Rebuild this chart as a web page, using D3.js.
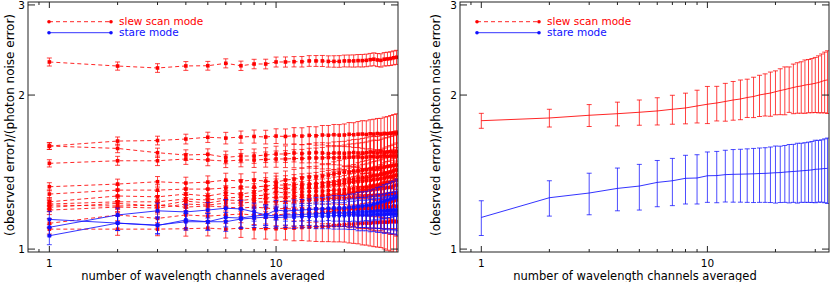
<!DOCTYPE html>
<html>
<head>
<meta charset="utf-8">
<script src="https://cdn.jsdelivr.net/npm/d3@7"></script>
<style>
  body { margin: 0; background: #fff; }
  svg { display: block; }
  text { font-family: "DejaVu Sans", sans-serif; }
</style>
</head>
<body>
<div id="chart"></div>
<script>
// number of wavelength channels averaged
var channels = [1, 2, 3, 4, 5, 6, 7, 8, 9, 10, 11, 12, 13, 14, 15, 16, 17, 18, 19, 20,
                21, 22, 23, 24, 25, 26, 27, 28, 29, 30, 31, 32, 33, 34];

// left panel, slew scan mode (one line per observation)
var slew1 = [2.321, 2.279, 2.259, 2.280, 2.282, 2.307, 2.282, 2.300, 2.300, 2.321, 2.321, 2.324, 2.324, 2.332, 2.332, 2.332, 2.327, 2.327, 2.327, 2.332, 2.332, 2.332, 2.335, 2.335, 2.338, 2.345, 2.350, 2.342, 2.338, 2.350, 2.353, 2.357, 2.365, 2.371];
var slew2 = [1.590, 1.626, 1.630, 1.641, 1.654, 1.648, 1.656, 1.660, 1.656, 1.663, 1.660, 1.666, 1.663, 1.668, 1.665, 1.671, 1.669, 1.673, 1.670, 1.671, 1.676, 1.673, 1.677, 1.678, 1.675, 1.680, 1.678, 1.682, 1.679, 1.683, 1.681, 1.684, 1.686, 1.686];
var slew3 = [1.590, 1.573, 1.543, 1.527, 1.532, 1.511, 1.520, 1.520, 1.527, 1.534, 1.534, 1.541, 1.537, 1.541, 1.544, 1.541, 1.537, 1.541, 1.541, 1.539, 1.541, 1.544, 1.541, 1.541, 1.544, 1.548, 1.544, 1.541, 1.548, 1.544, 1.548, 1.551, 1.548, 1.551];
var slew4 = [1.471, 1.488, 1.488, 1.500, 1.493, 1.486, 1.493, 1.493, 1.497, 1.500, 1.500, 1.503, 1.503, 1.507, 1.507, 1.507, 1.510, 1.507, 1.510, 1.512, 1.513, 1.513, 1.513, 1.510, 1.513, 1.517, 1.517, 1.513, 1.517, 1.520, 1.517, 1.520, 1.520, 1.520];
var slew5 = [1.324, 1.340, 1.354, 1.346, 1.352, 1.364, 1.358, 1.364, 1.358, 1.352, 1.364, 1.370, 1.377, 1.383, 1.383, 1.389, 1.395, 1.402, 1.408, 1.414, 1.414, 1.421, 1.424, 1.427, 1.430, 1.434, 1.437, 1.440, 1.444, 1.447, 1.450, 1.453, 1.457, 1.460];
var slew6 = [1.281, 1.304, 1.304, 1.310, 1.310, 1.316, 1.322, 1.322, 1.328, 1.334, 1.334, 1.337, 1.340, 1.340, 1.343, 1.346, 1.349, 1.352, 1.358, 1.364, 1.367, 1.370, 1.377, 1.380, 1.383, 1.389, 1.392, 1.395, 1.402, 1.405, 1.408, 1.414, 1.421, 1.427];
var slew7 = [1.237, 1.270, 1.265, 1.281, 1.270, 1.287, 1.281, 1.293, 1.304, 1.316, 1.313, 1.316, 1.322, 1.322, 1.325, 1.328, 1.334, 1.337, 1.340, 1.346, 1.349, 1.352, 1.355, 1.358, 1.361, 1.364, 1.367, 1.370, 1.373, 1.377, 1.383, 1.386, 1.389, 1.395];
var slew8 = [1.225, 1.237, 1.237, 1.253, 1.247, 1.258, 1.264, 1.270, 1.275, 1.293, 1.287, 1.290, 1.293, 1.296, 1.298, 1.298, 1.301, 1.304, 1.304, 1.307, 1.310, 1.313, 1.316, 1.319, 1.322, 1.328, 1.331, 1.334, 1.340, 1.346, 1.349, 1.352, 1.358, 1.364];
var slew9 = [1.207, 1.228, 1.214, 1.241, 1.230, 1.247, 1.244, 1.253, 1.258, 1.264, 1.264, 1.267, 1.270, 1.270, 1.273, 1.275, 1.278, 1.281, 1.284, 1.287, 1.290, 1.293, 1.296, 1.298, 1.301, 1.304, 1.307, 1.310, 1.313, 1.316, 1.319, 1.322, 1.328, 1.334];
var slew10 = [1.192, 1.208, 1.203, 1.225, 1.219, 1.230, 1.230, 1.236, 1.236, 1.237, 1.241, 1.241, 1.244, 1.247, 1.247, 1.250, 1.253, 1.256, 1.258, 1.258, 1.261, 1.264, 1.264, 1.267, 1.270, 1.270, 1.273, 1.275, 1.275, 1.278, 1.281, 1.284, 1.287, 1.287];
var slew11 = [1.219, 1.214, 1.219, 1.208, 1.214, 1.208, 1.203, 1.208, 1.203, 1.198, 1.201, 1.196, 1.199, 1.195, 1.198, 1.194, 1.197, 1.195, 1.198, 1.192, 1.196, 1.199, 1.197, 1.200, 1.203, 1.201, 1.204, 1.203, 1.208, 1.206, 1.209, 1.208, 1.214, 1.212];
var slew12 = [1.123, 1.166, 1.148, 1.166, 1.160, 1.166, 1.171, 1.166, 1.171, 1.166, 1.171, 1.171, 1.174, 1.177, 1.177, 1.182, 1.182, 1.187, 1.187, 1.192, 1.192, 1.198, 1.198, 1.203, 1.203, 1.209, 1.214, 1.217, 1.219, 1.225, 1.230, 1.236, 1.242, 1.247];
var slew13 = [1.094, 1.094, 1.094, 1.096, 1.099, 1.094, 1.099, 1.096, 1.097, 1.096, 1.099, 1.099, 1.102, 1.104, 1.104, 1.107, 1.109, 1.112, 1.114, 1.117, 1.119, 1.119, 1.122, 1.123, 1.124, 1.124, 1.127, 1.127, 1.129, 1.129, 1.129, 1.131, 1.131, 1.131];

// left panel, stare mode
var stare1 = [1.143, 1.124, 1.112, 1.140, 1.131, 1.153, 1.150, 1.160, 1.166, 1.160, 1.166, 1.166, 1.169, 1.171, 1.171, 1.174, 1.174, 1.177, 1.177, 1.177, 1.179, 1.179, 1.182, 1.182, 1.182, 1.184, 1.184, 1.187, 1.187, 1.187, 1.190, 1.190, 1.192, 1.192];
var stare2 = [1.103, 1.166, 1.188, 1.182, 1.192, 1.202, 1.198, 1.182, 1.166, 1.192, 1.187, 1.190, 1.192, 1.195, 1.198, 1.198, 1.201, 1.203, 1.203, 1.203, 1.206, 1.208, 1.211, 1.214, 1.217, 1.219, 1.225, 1.230, 1.236, 1.241, 1.247, 1.253, 1.258, 1.264];
var stare3 = [1.062, 1.124, 1.114, 1.131, 1.131, 1.131, 1.145, 1.150, 1.155, 1.152, 1.155, 1.155, 1.158, 1.158, 1.160, 1.160, 1.160, 1.163, 1.163, 1.163, 1.166, 1.166, 1.166, 1.166, 1.166, 1.166, 1.168, 1.168, 1.168, 1.168, 1.171, 1.171, 1.171, 1.171];

// left panel error bars
var errSlewTop = [0.042, 0.042, 0.044, 0.045, 0.045, 0.047, 0.048, 0.049, 0.050, 0.052, 0.053, 0.054, 0.055, 0.056, 0.057, 0.058, 0.059, 0.060, 0.061, 0.062, 0.063, 0.064, 0.065, 0.066, 0.066, 0.067, 0.068, 0.069, 0.070, 0.071, 0.072, 0.073, 0.074, 0.075];
var errSlew = [0.024, 0.030, 0.032, 0.036, 0.038, 0.043, 0.045, 0.049, 0.051, 0.055, 0.057, 0.061, 0.063, 0.067, 0.069, 0.073, 0.075, 0.079, 0.081, 0.085, 0.091, 0.093, 0.098, 0.104, 0.106, 0.110, 0.116, 0.118, 0.122, 0.128, 0.134, 0.140, 0.146, 0.152];
var errStare = [0.042, 0.037, 0.042, 0.042, 0.042, 0.048, 0.048, 0.048, 0.053, 0.053, 0.053, 0.058, 0.058, 0.058, 0.064, 0.064, 0.064, 0.069, 0.069, 0.069, 0.074, 0.074, 0.080, 0.080, 0.080, 0.085, 0.085, 0.090, 0.090, 0.095, 0.095, 0.100, 0.100, 0.106];

// right panel, averages
var slewMean = [1.782, 1.804, 1.826, 1.839, 1.851, 1.862, 1.876, 1.887, 1.904, 1.919, 1.930, 1.943, 1.956, 1.965, 1.978, 1.987, 2.001, 2.010, 2.018, 2.030, 2.041, 2.050, 2.060, 2.069, 2.078, 2.083, 2.092, 2.097, 2.102, 2.109, 2.116, 2.126, 2.136, 2.141];
var errSlewMean = [0.060, 0.072, 0.090, 0.098, 0.105, 0.114, 0.122, 0.130, 0.140, 0.160, 0.150, 0.165, 0.170, 0.175, 0.170, 0.180, 0.185, 0.190, 0.200, 0.200, 0.210, 0.220, 0.210, 0.230, 0.235, 0.240, 0.250, 0.250, 0.255, 0.260, 0.270, 0.280, 0.290, 0.300];
var stareMean = [1.153, 1.260, 1.287, 1.314, 1.328, 1.350, 1.360, 1.375, 1.377, 1.391, 1.392, 1.398, 1.400, 1.401, 1.402, 1.403, 1.405, 1.406, 1.408, 1.410, 1.411, 1.414, 1.416, 1.418, 1.420, 1.422, 1.424, 1.426, 1.428, 1.432, 1.433, 1.435, 1.437, 1.438];
var errStareMean = [0.090, 0.100, 0.120, 0.126, 0.136, 0.140, 0.144, 0.150, 0.152, 0.157, 0.160, 0.162, 0.165, 0.166, 0.168, 0.170, 0.171, 0.172, 0.175, 0.180, 0.178, 0.180, 0.185, 0.184, 0.190, 0.188, 0.190, 0.192, 0.195, 0.200, 0.198, 0.200, 0.205, 0.210];

var xTicksMajor = [1, 10];
var xTicksMinor = [0.9, 2, 3, 4, 5, 6, 7, 8, 9, 20, 30];
var yTicks = [1, 2, 3];
var legendLabels = ["slew scan mode", "stare mode"];
var xTitle = "number of wavelength channels averaged";
var yTitle = "(obesrved error)/(photon noise error)";

var RED = "#ff0000", BLUE = "#1010ff";
var width = 830, height = 282;

var svg = d3.select("#chart").append("svg")
    .attr("width", width)
    .attr("height", height);

function drawPanel(p) {
    var x = d3.scaleLog().domain([0.805, 34.5]).range([p.left, p.right]);
    var y = d3.scaleLog().domain([0.987, 3.04]).range([252, 2]);
    var g = svg.append("g");

    var clipId = "clip" + p.id;
    g.append("clipPath").attr("id", clipId)
        .append("rect")
        .attr("x", p.left).attr("y", 2)
        .attr("width", p.right - p.left).attr("height", 250);
    var plot = g.append("g").attr("clip-path", "url(#" + clipId + ")");

    var line = d3.line()
        .x(function (d) { return x(d[0]); })
        .y(function (d) { return y(d[1]); });

    p.series.forEach(function (s) {
        var pts = channels.map(function (c, i) { return [c, s.values[i], s.err[i]]; });
        var sg = plot.append("g");

        // error bars
        var eb = sg.selectAll(".eb").data(pts).enter().append("g");
        eb.append("line")
            .attr("x1", function (d) { return x(d[0]); })
            .attr("x2", function (d) { return x(d[0]); })
            .attr("y1", function (d) { return y(d[1] - d[2]); })
            .attr("y2", function (d) { return y(d[1] + d[2]); });
        eb.append("line")
            .attr("x1", function (d) { return x(d[0]) - p.cap; })
            .attr("x2", function (d) { return x(d[0]) + p.cap; })
            .attr("y1", function (d) { return y(d[1] + d[2]); })
            .attr("y2", function (d) { return y(d[1] + d[2]); });
        eb.append("line")
            .attr("x1", function (d) { return x(d[0]) - p.cap; })
            .attr("x2", function (d) { return x(d[0]) + p.cap; })
            .attr("y1", function (d) { return y(d[1] - d[2]); })
            .attr("y2", function (d) { return y(d[1] - d[2]); });
        eb.selectAll("line")
            .attr("stroke", s.color)
            .attr("stroke-opacity", 0.75)
            .attr("stroke-width", 1);

        sg.append("path")
            .datum(pts)
            .attr("fill", "none")
            .attr("stroke", s.color)
            .attr("stroke-width", 1)
            .attr("stroke-opacity", 0.85)
            .attr("stroke-dasharray", s.dash ? "4,3" : null)
            .attr("d", line);

        if (p.markers) {
            sg.selectAll(".mk").data(pts).enter().append("rect")
                .attr("x", function (d) { return x(d[0]) - 1.8; })
                .attr("y", function (d) { return y(d[1]) - 1.8; })
                .attr("width", 3.6)
                .attr("height", 3.6)
                .attr("fill", s.color);
        }
    });

    // frame
    g.append("rect")
        .attr("x", p.left).attr("y", 2)
        .attr("width", p.right - p.left).attr("height", 250)
        .attr("fill", "none")
        .attr("stroke", "#222")
        .attr("stroke-width", 1);

    // x ticks, pointing inwards on top and bottom
    [[252, -1], [2, 1]].forEach(function (e) {
        g.selectAll(null).data(xTicksMajor).enter().append("line")
            .attr("x1", function (d) { return x(d); }).attr("x2", function (d) { return x(d); })
            .attr("y1", e[0]).attr("y2", e[0] + e[1] * 6)
            .attr("stroke", "#222");
        g.selectAll(null).data(xTicksMinor).enter().append("line")
            .attr("x1", function (d) { return x(d); }).attr("x2", function (d) { return x(d); })
            .attr("y1", e[0]).attr("y2", e[0] + e[1] * 3)
            .attr("stroke", "#222");
    });
    // y ticks on left and right
    [[p.left, 1], [p.right, -1]].forEach(function (e) {
        g.selectAll(null).data(yTicks).enter().append("line")
            .attr("x1", e[0]).attr("x2", e[0] + e[1] * 7)
            .attr("y1", function (d) { return y(d); }).attr("y2", function (d) { return y(d); })
            .attr("stroke", "#222");
    });

    g.selectAll(null).data(xTicksMajor).enter().append("text")
        .attr("x", function (d) { return x(d); })
        .attr("y", 267)
        .attr("text-anchor", "middle")
        .style("font-size", "10.5px")
        .text(function (d) { return d; });
    g.selectAll(null).data(yTicks).enter().append("text")
        .attr("x", p.left - 3)
        .attr("y", function (d) { return y(d); })
        .attr("dy", "0.36em")
        .attr("text-anchor", "end")
        .style("font-size", "10.5px")
        .text(function (d) { return d; });

    // axis titles
    g.append("text")
        .attr("x", p.xTitleX).attr("y", 280)
        .attr("text-anchor", "middle")
        .style("font-size", "11.5px")
        .text(xTitle);
    g.append("text")
        .attr("transform", "translate(" + p.yTitleX + ",125) rotate(-90)")
        .attr("text-anchor", "middle")
        .style("font-size", "12px")
        .text(yTitle);

    // legend
    var lg = g.append("g");
    [[RED, true, 21.7], [BLUE, false, 32.7]].forEach(function (e, i) {
        lg.append("line")
            .attr("x1", p.legX).attr("x2", p.legX + 62)
            .attr("y1", e[2]).attr("y2", e[2])
            .attr("stroke", e[0])
            .attr("stroke-opacity", 0.85)
            .attr("stroke-dasharray", e[1] ? "4,3" : null);
        [p.legX, p.legX + 62].forEach(function (cx) {
            lg.append("circle").attr("cx", cx).attr("cy", e[2]).attr("r", 1.8).attr("fill", e[0]);
        });
        lg.append("text")
            .attr("x", p.legX + 70).attr("y", e[2])
            .attr("dy", "0.35em")
            .attr("fill", e[0])
            .style("font-size", "10.5px")
            .text(legendLabels[i]);
    });
}

var leftSeries = [slew1, slew2, slew3, slew4, slew5, slew6, slew7, slew8, slew9, slew10, slew11, slew12, slew13]
    .map(function (v, i) { return {values: v, err: i === 0 ? errSlewTop : errSlew, color: RED, dash: true}; })
    .concat([stare1, stare2, stare3].map(function (v) {
        return {values: v, err: errStare, color: BLUE, dash: false};
    }));

drawPanel({id: "L", left: 28, right: 398, cap: 2.5, markers: true, legX: 49,
           xTitleX: 203, yTitleX: 14, series: leftSeries});
drawPanel({id: "R", left: 460, right: 829, cap: 2.5, markers: false, legX: 477,
           xTitleX: 635, yTitleX: 440, series: [
               {values: slewMean, err: errSlewMean, color: RED, dash: false},
               {values: stareMean, err: errStareMean, color: BLUE, dash: false}
           ]});
</script>
</body>
</html>
